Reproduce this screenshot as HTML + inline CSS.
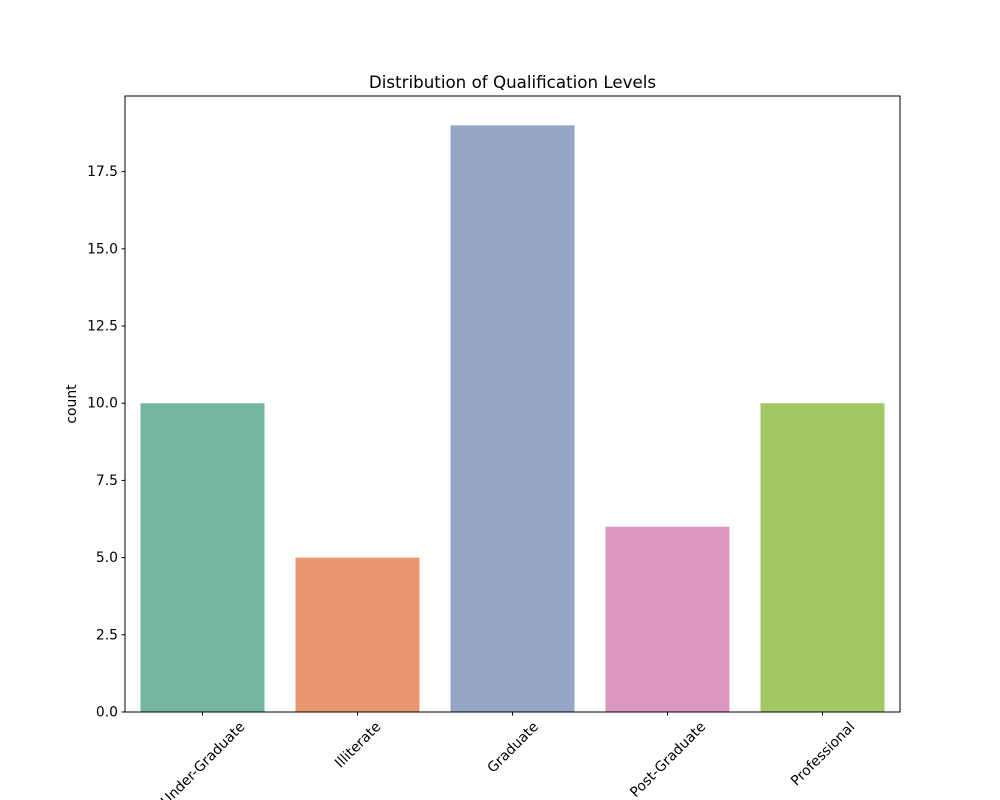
<!DOCTYPE html>
<html><head><meta charset="utf-8">
<style>body{margin:0;background:#fff}svg{display:block;font-family:"DejaVu Sans",sans-serif}</style>
</head><body>
<svg id="chart" width="1000" height="800"></svg>
<script>
const categories = ["Under-Graduate","Illiterate","Graduate","Post-Graduate","Professional"];
const counts = [10,5,19,6,10];
const colors = ["#74b6a0","#e9976f","#95a5c4","#dc96c0","#a2c865"];
const yTicks = [0,2.5,5,7.5,10,12.5,15,17.5];
const yTickLabels = ["0.0","2.5","5.0","7.5","10.0","12.5","15.0","17.5"];

const NS="http://www.w3.org/2000/svg";
const svg=document.getElementById('chart');
const L=125,R=900,T=96,B=712;
const yMax=Math.max(...counts)*1.05;
const xs=i=>L+(i+0.5)*(R-L)/categories.length;
const ys=v=>B-v/yMax*(B-T);
function mk(tag,attrs,parent){const e=document.createElementNS(NS,tag);for(const k in attrs)e.setAttribute(k,attrs[k]);(parent||svg).appendChild(e);return e;}

const bars=mk('g',{});


const bw=0.8*(R-L)/categories.length;
counts.forEach((v,i)=>{
  const r=mk('rect',{x:xs(i)-bw/2,y:ys(v),width:bw,height:B-ys(v),fill:colors[i]},bars);
  
  
});
const frame=mk('rect',{x:L,y:T,width:R-L,height:B-T,fill:'none',stroke:'#000','stroke-width':1});



const yAxis=mk('g',{});


yTicks.forEach((t,i)=>{
  const y=ys(t);
  mk('line',{x1:L-3.5,x2:L,y1:y,y2:y,stroke:'#000'},yAxis);
  const tx=mk('text',{x:L-7,y:y+4.5,'text-anchor':'end','font-size':'13.9px'},yAxis);
  tx.textContent=yTickLabels[i];
  
  
});
const xAxis=mk('g',{});


categories.forEach((c,i)=>{
  const x=xs(i);
  mk('line',{x1:x,x2:x,y1:B,y2:B+3.5,stroke:'#000'},xAxis);
  const tx=mk('text',{'text-anchor':'middle','font-size':'13.9px'},xAxis);
  tx.textContent=c;
  
  
  const w=tx.getComputedTextLength();
  const cy=B+7+(w+14)*0.7071/2;
  tx.setAttribute('x',x);tx.setAttribute('y',cy+5);
  tx.setAttribute('transform',`rotate(-45 ${x} ${cy})`);
});
const yl=mk('text',{x:0,y:0,'text-anchor':'middle','font-size':'13.9px',transform:`translate(76 ${(T+B)/2}) rotate(-90)`});
yl.textContent='count';


const title=mk('text',{x:(L+R)/2,y:88,'text-anchor':'middle','font-size':'16.7px'});
title.textContent='Distribution of Qualification Levels';


</script>
</body></html>
